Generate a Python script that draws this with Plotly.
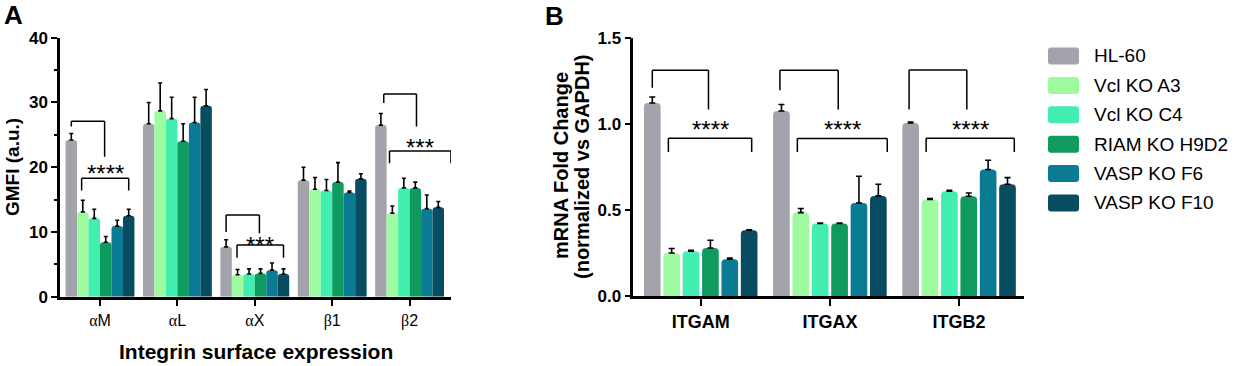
import plotly.graph_objects as go

W, H = 1241, 366
FONT = "Arial, Liberation Sans, sans-serif"

# ---------------- data ----------------
series = ["HL-60", "Vcl KO A3", "Vcl KO C4", "RIAM KO H9D2", "VASP KO F6", "VASP KO F10"]
colors = ["#a3a3ab", "#9ffb9f", "#43efb0", "#0f9a5f", "#0b7a93", "#084c62"]

# Panel A: GMFI (a.u.)
catA = ["αM", "αL", "αX", "β1", "β2"]
A_hl60 = [24.2, 26.7, 7.7, 18.0, 26.5]
A_a3 = [13.1, 28.7, 3.4, 16.6, 12.9]
A_c4 = [12.1, 27.5, 3.5, 16.4, 16.8]
A_riam = [8.4, 24.0, 3.6, 17.7, 16.8]
A_f6 = [10.9, 26.9, 4.1, 16.1, 13.6]
A_f10 = [12.5, 29.5, 3.5, 18.2, 13.8]
A_hl60_err = [1.0, 3.3, 1.1, 2.0, 1.8]
A_a3_err = [1.8, 4.3, 0.8, 1.8, 1.1]
A_c4_err = [1.4, 3.3, 0.8, 1.7, 1.5]
A_riam_err = [0.9, 2.7, 0.7, 3.0, 0.9]
A_f6_err = [0.9, 3.9, 1.1, 0.2, 2.1]
A_f10_err = [1.0, 2.5, 0.8, 0.8, 0.9]

# Panel B: mRNA fold change
catB = ["ITGAM", "ITGAX", "ITGB2"]
B_hl60 = [1.121, 1.075, 1.005]
B_a3 = [0.251, 0.485, 0.561]
B_c4 = [0.261, 0.422, 0.609]
B_riam = [0.280, 0.422, 0.580]
B_f6 = [0.215, 0.541, 0.735]
B_f10 = [0.383, 0.582, 0.650]
B_hl60_err = [0.035, 0.037, 0.006]
B_a3_err = [0.026, 0.024, 0.006]
B_c4_err = [0.006, 0.003, 0.006]
B_riam_err = [0.045, 0.003, 0.019]
B_f6_err = [0.007, 0.155, 0.054]
B_f10_err = [0.002, 0.068, 0.038]

# significance brackets: category, label, y-levels
brkA_cat = [0, 2, 4]
brkA_text = ["****", "***", "***"]
brkA_top = [27.1, 12.6, 31.3]
brkA_topleft_end = [26.3, 10.0, 29.9]
brkA_topright_end = [21.6, 9.8, 26.3]
brkA_low = [18.3, 8.0, 22.5]
brkA_low_end = [16.4, 6.0, 20.6]
brkA_star = [20.1, 9.0, 24.2]

brkB_cat = [0, 1, 2]
brkB_text = ["****", "****", "****"]
brkB_top = [1.311, 1.311, 1.313]
brkB_topleft_end = [1.21, 1.195, 1.083]
brkB_topright_end = [1.083, 1.083, 1.083]
brkB_low = [0.917, 0.915, 0.917]
brkB_low_end = [0.837, 0.837, 0.837]
brkB_star = [1.007, 1.007, 1.007]

meansA = [A_hl60, A_a3, A_c4, A_riam, A_f6, A_f10]
errsA = [A_hl60_err, A_a3_err, A_c4_err, A_riam_err, A_f6_err, A_f10_err]
meansB = [B_hl60, B_a3, B_c4, B_riam, B_f6, B_f10]
errsB = [B_hl60_err, B_a3_err, B_c4_err, B_riam_err, B_f6_err, B_f10_err]

# ---------------- layout geometry ----------------
def px(x):
    return x / W

def py(y):
    return 1 - y / H

GAP_A = 0.11
SLOT_A = (1 - GAP_A) / 6
GROUP_B = 0.90
SLOT_B = GROUP_B / 6
BARW_B = SLOT_B * 0.86


def posA(cat, i):
    return cat - (1 - GAP_A) / 2 + (i + 0.5) * SLOT_A


def posB(cat, i):
    return cat - GROUP_B / 2 + (i + 0.5) * SLOT_B


fig = go.Figure()

for i, name in enumerate(series):
    fig.add_trace(go.Bar(
        x=catA, y=meansA[i], name=name, marker_color=colors[i],
        marker_line_width=0, marker_cornerradius=3,
        error_y=dict(type="data", array=errsA[i], arrayminus=[0] * len(catA),
                     symmetric=False, color="black", thickness=1.6, width=2),
        xaxis="x", yaxis="y", showlegend=False,
    ))
for i, name in enumerate(series):
    fig.add_trace(go.Bar(
        x=catB, y=meansB[i], name=name, marker_color=colors[i],
        marker_line_width=0, marker_cornerradius=4,
        width=BARW_B, offset=-GROUP_B / 2 + i * SLOT_B + (SLOT_B - BARW_B) / 2,
        error_y=dict(type="data", array=errsB[i], arrayminus=[0] * len(catB),
                     symmetric=False, color="black", thickness=1.6, width=3),
        xaxis="x2", yaxis="y2", showlegend=False,
    ))

shapes = []
annotations = []


def seg(xref, yref, x0, y0, x1, y1):
    shapes.append(dict(type="line", xref=xref, yref=yref, x0=x0, y0=y0, x1=x1, y1=y1,
                       line=dict(color="black", width=1.5), layer="above"))


def bracket(xref, yref, pos, cat, tl, tr, ll, lr, top, tl_end, tr_end, low, low_end, star, text, fs):
    xl, xr = pos(cat, tl), pos(cat, tr)
    seg(xref, yref, xl, tl_end, xl, top)
    seg(xref, yref, xl, top, xr, top)
    seg(xref, yref, xr, top, xr, tr_end)
    x0, x1 = pos(cat, ll), pos(cat, lr)
    seg(xref, yref, x0, low_end, x0, low)
    seg(xref, yref, x0, low, x1, low)
    seg(xref, yref, x1, low, x1, low_end)
    annotations.append(dict(xref=xref, yref=yref, x=(x0 + x1) / 2, y=star, text=text,
                            showarrow=False, yanchor="middle", xanchor="center", yshift=-7,
                            font=dict(family=FONT, size=fs, color="black")))


# bar-index anchors of the bracket legs
brkA_legs = [(0, 2.9, 0.9, 5.0), (0, 2.9, 0.95, 5.0), (0.25, 3.1, 0.75, 6.1)]
for k in range(3):
    tl, tr, ll, lr = brkA_legs[k]
    bracket("x", "y", posA, brkA_cat[k], tl, tr, ll, lr, brkA_top[k], brkA_topleft_end[k],
            brkA_topright_end[k], brkA_low[k], brkA_low_end[k], brkA_star[k], brkA_text[k], 24)

brkB_legs = [(0, 2.9, 0.83, 5.13), (-0.08, 2.93, 0.82, 5.46), (-0.08, 2.9, 0.8, 5.35)]
for k in range(3):
    tl, tr, ll, lr = brkB_legs[k]
    bracket("x2", "y2", posB, brkB_cat[k], tl, tr, ll, lr, brkB_top[k], brkB_topleft_end[k],
            brkB_topright_end[k], brkB_low[k], brkB_low_end[k], brkB_star[k], brkB_text[k], 24)


def label(x, y, text, size, angle=0, xanchor="center"):
    annotations.append(dict(xref="paper", yref="paper", x=px(x), y=py(y), text=text,
                            textangle=angle, showarrow=False, xanchor=xanchor, yanchor="middle",
                            font=dict(family=FONT, size=size, color="black")))


# panel letters and titles
label(13, 15, "<b>A</b>", 26)
label(554, 16, "<b>B</b>", 26)
label(13, 167, "<b>GMFI (a.u.)</b>", 19, -90)
label(256, 351, "<b>Integrin surface expression</b>", 21)
label(561, 166, "<b>mRNA Fold Change</b>", 20, -90)
label(582, 167, "<b>(normalized vs GAPDH)</b>", 20, -90)

# custom legend
LEG_X0, LEG_X1 = 1048, 1079
LEG_Y0, LEG_PITCH, LEG_H = 47.5, 29.4, 17
r = 3
for i, name in enumerate(series):
    y0 = LEG_Y0 + i * LEG_PITCH
    y1 = y0 + LEG_H
    xa, xb = px(LEG_X0), px(LEG_X1)
    ya, yb = py(y1), py(y0)
    rx, ry = r / W, r / H
    path = (f"M {xa + rx} {ya} L {xb - rx} {ya} Q {xb} {ya} {xb} {ya + ry} "
            f"L {xb} {yb - ry} Q {xb} {yb} {xb - rx} {yb} L {xa + rx} {yb} "
            f"Q {xa} {yb} {xa} {yb - ry} L {xa} {ya + ry} Q {xa} {ya} {xa + rx} {ya} Z")
    shapes.append(dict(type="path", xref="paper", yref="paper", path=path,
                       fillcolor=colors[i], line=dict(width=0)))
    label(1092, y0 + LEG_H / 2, name, 19, xanchor="left")

ticktextA = ['<span style="font-family:Liberation Serif,Times New Roman,serif">%s</span>%s' % (c[0], c[1:])
             for c in catA]

axis_common = dict(showline=True, linecolor="black", linewidth=2.5, showgrid=False,
                   zeroline=False, ticks="outside", tickcolor="black", tickwidth=2,
                   automargin=False)

fig.update_layout(
    width=W, height=H, margin=dict(l=0, r=0, t=0, b=0, autoexpand=False),
    paper_bgcolor="white", plot_bgcolor="white",
    barmode="group", bargap=GAP_A, bargroupgap=0,
    showlegend=False,
    font=dict(family=FONT, color="black"),
    xaxis=dict(axis_common, domain=[px(60), px(451)], range=[-0.517, 4.535],
               type="category", categoryarray=catA, tickvals=catA, ticktext=ticktextA,
               ticklen=7, tickfont=dict(family=FONT, size=16, color="black"), anchor="y"),
    yaxis=dict(axis_common, domain=[py(296.7), py(37.7)], range=[0, 40],
               tickvals=[0, 10, 20, 30, 40], ticklen=6,
               minor=dict(dtick=5, tick0=0, ticks="outside", ticklen=3, tickwidth=2, tickcolor="black"),
               tickfont=dict(family=FONT, size=17, color="black", weight="bold"), anchor="x"),
    xaxis2=dict(axis_common, domain=[px(633.3), px(1024.3)], range=[-0.522, 2.505],
                type="category", categoryarray=catB, ticklen=7,
                tickfont=dict(family=FONT, size=18, color="black", weight="bold"), anchor="y2"),
    yaxis2=dict(axis_common, domain=[py(296.2), py(37.7)], range=[0, 1.5],
                tickvals=[0, 0.5, 1.0, 1.5], tickformat=".1f", ticklen=6,
                tickfont=dict(family=FONT, size=17, color="black", weight="bold"), anchor="x2"),
    shapes=shapes, annotations=annotations,
)

fig.write_html("out.html", config={"displayModeBar": False},
               post_script="document.body.style.margin='0';document.documentElement.style.overflow='hidden';")
